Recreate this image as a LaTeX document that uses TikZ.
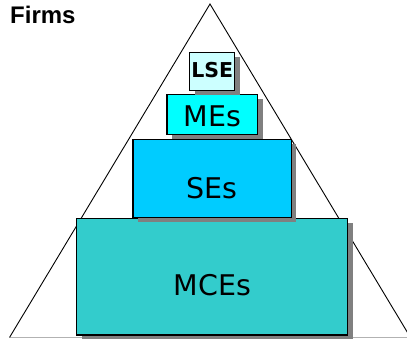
\documentclass[tikz,border=0pt]{standalone}
\usepackage{fontspec}
\setmainfont{DejaVu Sans}
\newfontfamily\firmsfont{Liberation Sans}
\usetikzlibrary{positioning,shadows}
\definecolor{lsecol}{HTML}{CCFFFF}
\definecolor{mecol}{HTML}{00FFFF}
\definecolor{secol}{HTML}{00CCFF}
\definecolor{mcecol}{HTML}{33CCCC}
\tikzset{
  tier/.style={draw=black, line width=1.2pt, inner sep=0pt,
    drop shadow={shadow xshift=5pt, shadow yshift=-5pt, fill=black!50, opacity=1}},
  tiertext/.style={font=\fontsize{28.5}{30}\selectfont, inner sep=0pt}
}
\begin{document}
\begin{tikzpicture}[x=1pt, y=1pt]
    \clip (0,0) rectangle (407,339);
    \coordinate (top) at (210,335);
    \coordinate (bl) at (9.5,1.5);
    \coordinate (br) at (410.5,1.5);
    \draw[gray!60, line width=0.8pt] (bl) -- (br);
    \draw[line width=0.9pt] (bl) -- (top) -- (br);
    \node[anchor=base west, inner sep=0pt, font=\firmsfont\bfseries\fontsize{24}{26}\selectfont] (firms) at (10,315.7) {Firms};
    \node[tier, fill=mcecol, minimum width=271pt, minimum height=116.7pt] (mce) at (212.2,62.3) {};
    \node[tier, fill=secol, minimum width=158.3pt, minimum height=78pt, above=0pt of mce] (se) {};
    \node[tier, fill=mecol, minimum width=90.6pt, minimum height=40pt, above=3.6pt of se] (me) {};
    \node[tier, fill=lsecol, minimum width=45pt, minimum height=38.3pt, above=2.7pt of me] (lse) {};
    \node[tiertext, yshift=-8.3pt] (mcetxt) at (mce) {MCEs};
    \node[tiertext, yshift=-9.5pt] (setxt) at (se) {SEs};
    \node[tiertext, yshift=-2.3pt] (metxt) at (me) {MEs};
    \node[tiertext, font=\bfseries\fontsize{20.5}{22}\selectfont, yshift=1pt] (lsetxt) at (lse) {LSE};
\end{tikzpicture}
\end{document}
